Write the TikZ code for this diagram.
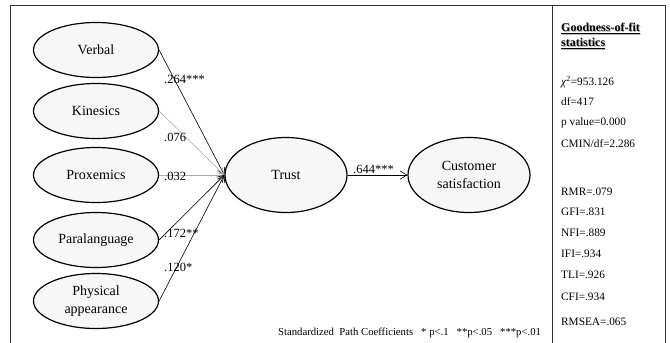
\documentclass[tikz,border=0pt]{standalone}
\usepackage{fontspec}
\setmainfont{Liberation Serif}
\newfontfamily\tnr{Liberation Serif}
\usetikzlibrary{arrows.meta, positioning, shapes.geometric}

% grey drop shadow under a heading
\newcommand{\shadowed}[1]{\makebox[0pt][l]{\hspace{0.9pt}\raisebox{-0.9pt}{\textcolor{gray!55}{#1}}}#1}

\begin{document}
\begin{tikzpicture}[x=1pt, y=-1pt,
    factor/.style={ellipse, draw, line width=1.2pt, fill=gray!6, minimum width=125pt, minimum height=55pt, inner sep=0pt, align=center, font=\tnr\fontsize{14}{18}\selectfont},
    latent/.style={factor, minimum width=122pt, minimum height=75pt, font=\tnr\fontsize{14}{17.5}\selectfont},
    pth/.style={-{Straight Barb[length=6.5pt, width=8pt]}, line width=0.6pt},
    weak/.style={pth, draw=gray!65},
    coef/.style={font=\tnr\fontsize{12.5}{14}\selectfont, anchor=west, inner sep=0pt},
    stat/.style={font=\tnr\fontsize{11.3}{13}\selectfont, anchor=west, inner sep=0pt}
]
    \useasboundingbox (0,0) rectangle (670,343);

    % frame, right part holds the fit indices
    \draw[line width=0.8pt, black!80] (10,343) -- (10,5) -- (665,5) -- (665,343);
    \draw[line width=0.8pt, black!80] (552,5) -- (552,343);

    % nonverbal cues
    \node[factor] (verbal) at (96,50) {Verbal};
    \node[factor] (kinesics) at (96,111) {Kinesics};
    \node[factor] (proxemics) at (96,175) {Proxemics};
    \node[factor] (paralang) at (96,240) {Paralanguage};
    \node[factor] (physical) at (96,301) {Physical\\appearance};

    % mediator and outcome
    \node[latent] (trust) at (286,175) {Trust};
    \node[latent] (satisf) at (469,175) {Customer\\satisfaction};

    % paths
    \draw[pth] (verbal.east) -- (trust.west);
    \draw[weak] (kinesics.east) -- (trust.west);
    \draw[weak] (proxemics.east) -- (trust.west);
    \draw[pth] (paralang.east) -- (trust.west);
    \draw[pth] (physical.east) -- (trust.west);
    \draw[pth] (trust) -- (satisf);

    % coefficients
    \node[coef] (c-verbal) at (164,79) {.264***};
    \node[coef] (c-kinesics) at (164,137) {.076};
    \node[coef] (c-proxemics) at (164,176) {.032};
    \node[coef] (c-paralang) at (164,233) {.172**};
    \node[coef] (c-physical) at (164,267) {.120*};
    \node[coef] (c-trust) at (353,169) {.644***};

    \node[font=\tnr\fontsize{10.7}{12}\selectfont, anchor=west, inner sep=0pt] (note) at (278,333)
        {Standardized\ \ Path Coefficients\ \ \ * p<.1\ \ \ **p<.05\ \ \ ***p<.01};

    % fit statistics
    \node[anchor=north west, inner sep=0pt, align=left, font=\tnr\bfseries\fontsize{12}{15}\selectfont] (fit-head) at (561,23)
        {\shadowed{\underline{Goodness-of-fit}}\\\shadowed{\underline{statistics}}};
    \foreach \y/\txt [count=\i] in {82/{\textit{χ}\textsuperscript{2}=953.126}, 102/{df=417}, 123/{p value=0.000},
        144/{CMIN/df=2.286}, 192/{RMR=.079}, 212/{GFI=.831}, 233/{NFI=.889}, 254/{IFI=.934},
        275/{TLI=.926}, 297/{CFI=.934}, 322/{RMSEA=.065}}
        \node[stat] (fit-\i) at (561,\y) {\txt};
\end{tikzpicture}
\end{document}
